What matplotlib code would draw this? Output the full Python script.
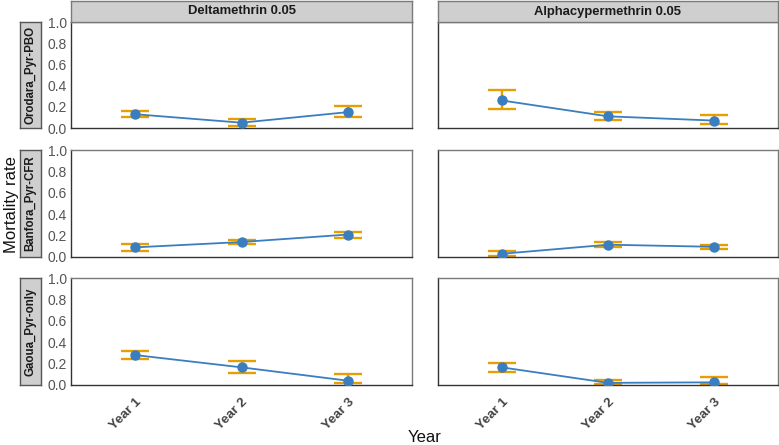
import matplotlib
matplotlib.use("Agg")
import matplotlib.pyplot as plt

plt.rcParams['font.family'] = ['Liberation Sans', 'DejaVu Sans']

years = ["Year 1", "Year 2", "Year 3"]
insecticides = ["Deltamethrin 0.05", "Alphacypermethrin 0.05"]
sites = ["Orodara_Pyr-PBO", "Banfora_Pyr-CFR", "Gaoua_Pyr-only"]

# mortality estimates [site][insecticide] -> per year
mort = {
    ("Orodara_Pyr-PBO", "Deltamethrin 0.05"): [0.13, 0.05, 0.15],
    ("Orodara_Pyr-PBO", "Alphacypermethrin 0.05"): [0.26, 0.11, 0.07],
    ("Banfora_Pyr-CFR", "Deltamethrin 0.05"): [0.09, 0.14, 0.21],
    ("Banfora_Pyr-CFR", "Alphacypermethrin 0.05"): [0.03, 0.115, 0.095],
    ("Gaoua_Pyr-only", "Deltamethrin 0.05"): [0.28, 0.165, 0.04],
    ("Gaoua_Pyr-only", "Alphacypermethrin 0.05"): [0.165, 0.02, 0.025],
}
lower = {
    ("Orodara_Pyr-PBO", "Deltamethrin 0.05"): [0.10, 0.02, 0.10],
    ("Orodara_Pyr-PBO", "Alphacypermethrin 0.05"): [0.18, 0.08, 0.04],
    ("Banfora_Pyr-CFR", "Deltamethrin 0.05"): [0.06, 0.12, 0.18],
    ("Banfora_Pyr-CFR", "Alphacypermethrin 0.05"): [0.005, 0.09, 0.075],
    ("Gaoua_Pyr-only", "Deltamethrin 0.05"): [0.24, 0.11, 0.015],
    ("Gaoua_Pyr-only", "Alphacypermethrin 0.05"): [0.125, 0.005, 0.005],
}
upper = {
    ("Orodara_Pyr-PBO", "Deltamethrin 0.05"): [0.165, 0.085, 0.21],
    ("Orodara_Pyr-PBO", "Alphacypermethrin 0.05"): [0.36, 0.15, 0.12],
    ("Banfora_Pyr-CFR", "Deltamethrin 0.05"): [0.12, 0.16, 0.235],
    ("Banfora_Pyr-CFR", "Alphacypermethrin 0.05"): [0.06, 0.14, 0.115],
    ("Gaoua_Pyr-only", "Deltamethrin 0.05"): [0.32, 0.225, 0.105],
    ("Gaoua_Pyr-only", "Alphacypermethrin 0.05"): [0.21, 0.045, 0.075],
}

W, H = 779, 445
fig = plt.figure(figsize=(W / 100, H / 100), dpi=100)

col_x = [(71, 412), (438, 778)]
row_y = [(22, 128), (150, 257), (278, 385)]

def fbox(x0, x1, y0, y1):
    return [x0 / W, 1 - y1 / H, (x1 - x0) / W, (y1 - y0) / H]

blue = '#3A7EC0'
orange = '#E69F00'
xs = list(range(len(years)))

for r, site in enumerate(sites):
    for c, ins in enumerate(insecticides):
        ax = fig.add_axes(fbox(col_x[c][0], col_x[c][1], row_y[r][0], row_y[r][1]))
        key = (site, ins)
        m = mort[key]
        lo = [mv - l for mv, l in zip(m, lower[key])]
        hi = [u - mv for mv, u in zip(m, upper[key])]
        ax.errorbar(xs, m, yerr=[lo, hi], fmt='none', ecolor=orange,
                    elinewidth=1.7, capsize=10, capthick=1.7, zorder=2)
        ax.plot(xs, m, color=blue, lw=1.3, zorder=3)
        ax.plot(xs, m, 'o', color=blue, ms=6.5, zorder=4)
        ax.set_xlim(-0.6, 2.6)
        ax.set_ylim(0, 1)
        ax.set_yticks([0, 0.2, 0.4, 0.6, 0.8, 1.0])
        ax.tick_params(length=0, labelsize=10, labelcolor='#555555', pad=3)
        if c == 0:
            ax.set_yticklabels(["0.0", "0.2", "0.4", "0.6", "0.8", "1.0"])
        else:
            ax.set_yticklabels([])
        ax.set_xticks(xs)
        if r == len(sites) - 1:
            ax.set_xticklabels(years, rotation=45, ha='right', rotation_mode='anchor',
                               fontweight='bold', fontsize=9.5, color='#444444')
            ax.tick_params(axis='x', pad=8)
        else:
            ax.set_xticklabels([])
        for s in ['left', 'bottom']:
            ax.spines[s].set_color('#333333')
            ax.spines[s].set_linewidth(1.0)
        for s in ['top', 'right']:
            ax.spines[s].set_color('#7a7a7a')
            ax.spines[s].set_linewidth(1.0)

# top strips
for c, ins in enumerate(insecticides):
    x0, x1 = col_x[c]
    sax = fig.add_axes(fbox(x0, x1, 1, 22))
    sax.set_facecolor('#CFCFCF')
    sax.set_xticks([]); sax.set_yticks([])
    for s in sax.spines.values():
        s.set_color('#7a7a7a'); s.set_linewidth(1.0)
    sax.text(0.5, 0.5, ins, ha='center', va='center', fontsize=9.4,
             fontweight='bold', color='#1a1a1a', transform=sax.transAxes)

# row strips
for r, site in enumerate(sites):
    y0, y1 = row_y[r]
    sax = fig.add_axes(fbox(20, 41, y0, y1))
    sax.set_facecolor('#CFCFCF')
    sax.set_xticks([]); sax.set_yticks([])
    for s in sax.spines.values():
        s.set_color('#555555'); s.set_linewidth(1.0)
    sax.text(0.5, 0.5, site, ha='center', va='center', rotation=90, fontsize=8.3,
             fontweight='bold', color='#1a1a1a', transform=sax.transAxes)

fig.text(12 / W, 1 - 205 / H, "Mortality rate", rotation=90, ha='center', va='center',
         fontsize=12, color='#111111')
fig.text(425 / W, 1 - 437 / H, "Year", ha='center', va='center', fontsize=12,
         color='#111111')

fig.savefig("out.png", dpi=100)
